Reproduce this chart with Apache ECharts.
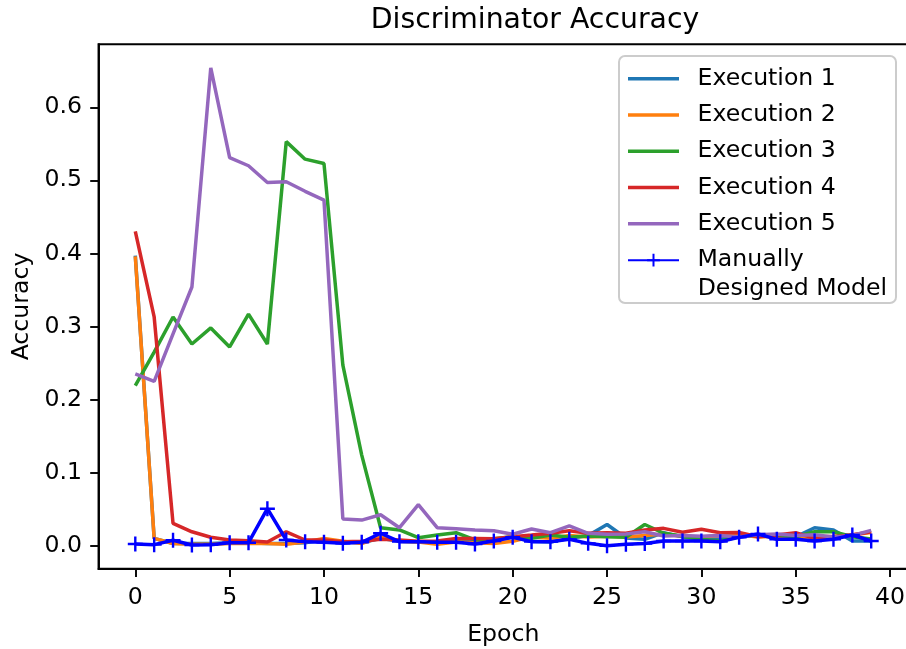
<!DOCTYPE html>
<html>
<head>
<meta charset="utf-8">
<script src="https://cdn.jsdelivr.net/npm/echarts@6/dist/echarts.min.js"></script>
<style>
html,body{margin:0;padding:0;background:#fff;}
#chart{width:906px;height:649px;}
</style>
</head>
<body>
<div id="chart"></div>
<script>
const epochs = Array.from({length: 40}, (_, i) => i);
const seriesNames = ['Execution 1', 'Execution 2', 'Execution 3', 'Execution 4', 'Execution 5', 'Manually Designed Model'];
const exec1 = [0.397, 0.010, 0.003, 0.003, 0.003, 0.004, 0.004, 0.003, 0.003, 0.004, 0.008, 0.005, 0.004, 0.010, 0.006, 0.005, 0.005, 0.006, 0.006, 0.008, 0.012, 0.006, 0.005, 0.010, 0.014, 0.029, 0.0105, 0.0088, 0.0178, 0.012, 0.009, 0.009, 0.014, 0.014, 0.015, 0.012, 0.0246, 0.0215, 0.0064, 0.0064];
const exec2 = [0.396, 0.010, 0.003, 0.002, 0.002, 0.003, 0.003, 0.003, 0.002, 0.005, 0.010, 0.006, 0.003, 0.012, 0.006, 0.005, 0.002, 0.005, 0.004, 0.003, 0.006, 0.012, 0.010, 0.014, 0.012, 0.013, 0.012, 0.014, 0.016, 0.013, 0.012, 0.014, 0.015, 0.012, 0.013, 0.010, 0.012, 0.013, 0.015, 0.018];
const exec3 = [0.219, 0.265, 0.313, 0.276, 0.298, 0.272, 0.317, 0.276, 0.553, 0.529, 0.523, 0.247, 0.124, 0.0246, 0.0215, 0.011, 0.0146, 0.0178, 0.0078, 0.0096, 0.0123, 0.010, 0.0146, 0.0115, 0.0133, 0.0123, 0.0115, 0.029, 0.017, 0.013, 0.0088, 0.0064, 0.0123, 0.0146, 0.0146, 0.0123, 0.019, 0.019, 0.0123, 0.009];
const exec4 = [0.430, 0.313, 0.0306, 0.019, 0.0115, 0.0078, 0.0068, 0.005, 0.019, 0.0078, 0.0078, 0.0055, 0.006, 0.0088, 0.0078, 0.006, 0.0064, 0.010, 0.010, 0.0096, 0.0123, 0.0146, 0.017, 0.0205, 0.017, 0.0178, 0.017, 0.0215, 0.0237, 0.0183, 0.0224, 0.0178, 0.018, 0.0123, 0.0146, 0.0178, 0.010, 0.0123, 0.0146, 0.0192];
const exec5 = [0.235, 0.225, 0.290, 0.354, 0.654, 0.531, 0.520, 0.497, 0.498, 0.485, 0.473, 0.0365, 0.035, 0.0424, 0.0246, 0.0561, 0.0246, 0.0233, 0.0215, 0.0205, 0.0156, 0.0228, 0.0178, 0.027, 0.017, 0.0156, 0.016, 0.019, 0.0133, 0.014, 0.013, 0.014, 0.012, 0.015, 0.016, 0.014, 0.015, 0.012, 0.014, 0.021];
const manual = [0.0023, 0.0014, 0.0074, 0.001, 0.0014, 0.0041, 0.0041, 0.0506, 0.0078, 0.0055, 0.0046, 0.0032, 0.0046, 0.017, 0.0055, 0.0055, 0.0046, 0.0046, 0.0023, 0.0064, 0.0115, 0.0055, 0.0055, 0.0087, 0.0032, 0.0, 0.0018, 0.003, 0.0064, 0.0064, 0.0064, 0.0055, 0.0114, 0.016, 0.0087, 0.0087, 0.0064, 0.0087, 0.0146, 0.0064];
const xTicks = [0, 5, 10, 15, 20, 25, 30, 35, 40];
const yTicks = [0.0, 0.1, 0.2, 0.3, 0.4, 0.5, 0.6];

const colors = ['#1f77b4', '#ff7f0e', '#2ca02c', '#d62728', '#9467bd', '#0000ff'];
const allData = [exec1, exec2, exec3, exec4, exec5, manual];
const FONT = 'DejaVu Sans';
const FS = 23.6;

const series = allData.map((vals, k) => {
  const isManual = k === 5;
  return {
    name: seriesNames[k],
    type: 'line',
    data: vals.map((v, i) => [epochs[i], v]),
    symbol: isManual ? 'path://M0,-7L0,7M-7,0L7,0' : 'none',
    symbolSize: 15,
    showSymbol: isManual,
    showAllSymbol: true,
    lineStyle: {color: colors[k], width: 3.5},
    itemStyle: isManual
      ? {color: colors[k], borderColor: colors[k], borderWidth: 2.4}
      : {color: colors[k], borderWidth: 0},
    emphasis: {disabled: true},
    silent: true,
    z: 2 + k
  };
});

const legendData = seriesNames.map((n, k) => k === 5 ? {name: n} : {name: n, icon: 'path://M0,0H51V3.5H0Z'});

const chart = echarts.init(document.getElementById('chart'), null, {renderer: 'canvas'});
chart.setOption({
  animation: false,
  backgroundColor: '#fff',
  textStyle: {fontFamily: FONT},
  grid: {left: 98.5, top: 44.3, width: 809.5, height: 524.4, containLabel: false, outerBoundsMode: 'none', show: true, borderColor: '#000', borderWidth: 1.9, backgroundColor: 'transparent'},
  xAxis: {
    type: 'value', min: -1.95, max: 40.95,
    name: 'Epoch', nameLocation: 'middle', nameGap: 54,
    nameTextStyle: {fontFamily: FONT, fontSize: FS, color: '#000'},
    axisLine: {show: true, onZero: false, lineStyle: {color: '#000', width: 1.9}},
    axisTick: {show: true, length: 8.3, lineStyle: {color: '#000', width: 1.9}, customValues: xTicks},
    axisLabel: {fontFamily: FONT, fontSize: FS, color: '#000', margin: 17.5, customValues: xTicks, formatter: v => String(v)},
    splitLine: {show: false}
  },
  yAxis: {
    type: 'value', min: -0.0315, max: 0.6862,
    name: 'Accuracy', nameLocation: 'middle', nameGap: 58,
    nameTextStyle: {fontFamily: FONT, fontSize: FS, color: '#000'},
    axisLine: {show: true, onZero: false, lineStyle: {color: '#000', width: 1.9}},
    axisTick: {show: true, length: 8.3, lineStyle: {color: '#000', width: 1.9}, customValues: yTicks},
    axisLabel: {fontFamily: FONT, fontSize: FS, color: '#000', margin: 16.6, customValues: yTicks, formatter: v => v.toFixed(1)},
    splitLine: {show: false}
  },
  legend: {
    orient: 'vertical', left: 627, top: 60.5, padding: 0, itemGap: 0,
    itemWidth: 51, itemHeight: 16, z: 20,
    data: legendData,
    formatter: n => n === 'Manually Designed Model' ? 'Manually' : n,
    textStyle: {fontFamily: FONT, fontSize: FS, color: '#000', lineHeight: 36.3, padding: [0, 0, 0, 13.5]},
    selectedMode: false
  },
  graphic: [
    {type: 'text', style: {text: 'Discriminator Accuracy', x: 535, y: 21, align: 'center', verticalAlign: 'middle', font: '28.3px "DejaVu Sans"', fill: '#000'}, z: 21},
    {type: 'rect', shape: {x: 619, y: 56, width: 277, height: 247, r: 6}, style: {fill: 'rgba(255,255,255,0.8)', stroke: '#cccccc', lineWidth: 2}, z: 10},
    {type: 'text', style: {text: 'Designed Model', x: 697.7, y: 288.5, verticalAlign: 'middle', font: FS + 'px "DejaVu Sans"', fill: '#000'}, z: 21}
  ],
  series: series
});
</script>
</body>
</html>
